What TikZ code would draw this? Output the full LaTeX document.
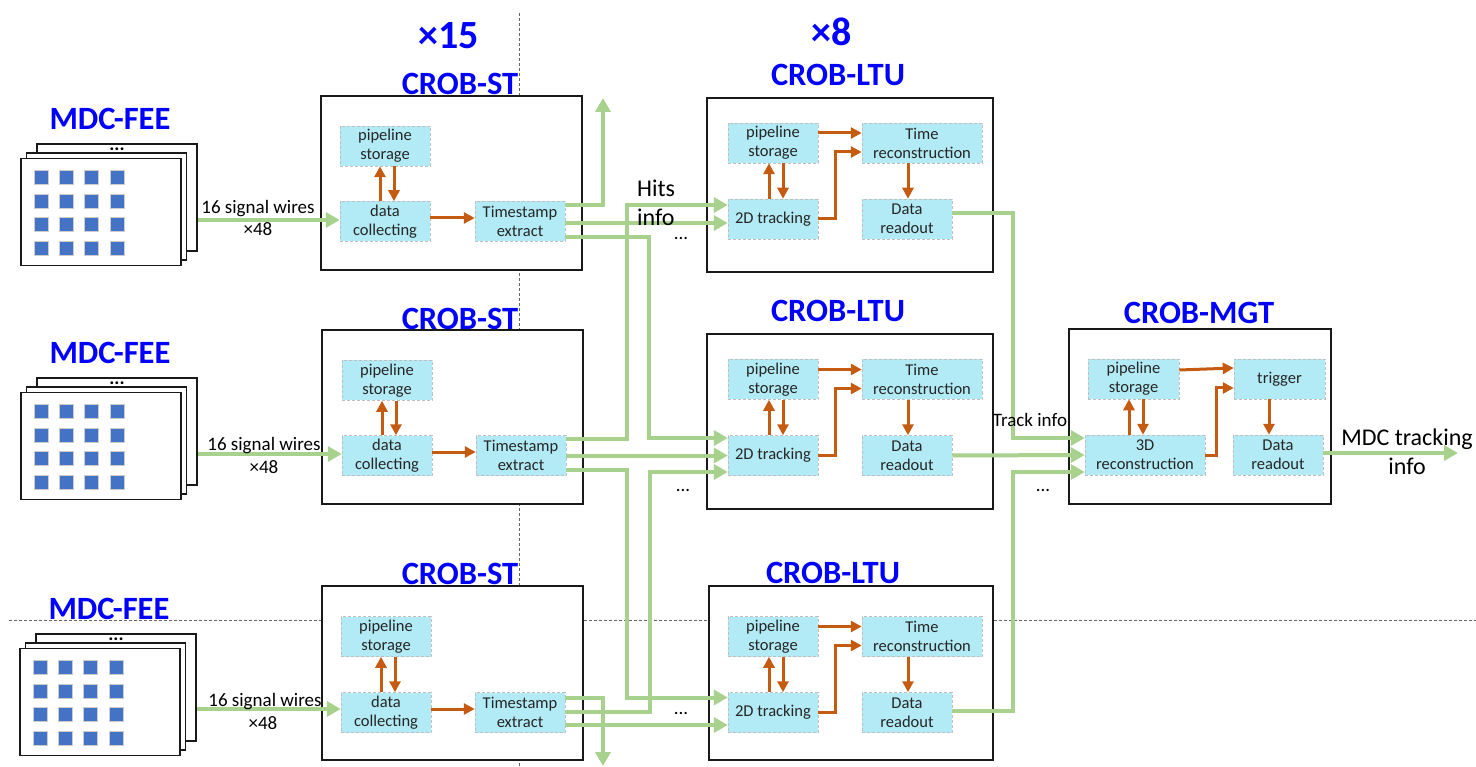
\documentclass[tikz,border=0pt]{standalone}
\usepackage{fontspec}
\setmainfont{Carlito}
\usepackage{tikz}
\usetikzlibrary{arrows.meta}
\definecolor{titleblue}{RGB}{0,0,255}
\definecolor{modcyan}{RGB}{178,235,245}
\definecolor{linkgreen}{RGB}{169,209,142}
\definecolor{ctrlorange}{RGB}{197,90,17}
\definecolor{pinblue}{RGB}{68,114,196}
\tikzset{
  title/.style={font=\fontsize{32.5}{32}\selectfont\bfseries, text=titleblue, inner sep=0pt},
  board/.style={draw=black!90, line width=2pt, fill=white, inner sep=0pt},
  card/.style={draw=black!90, line width=1.8pt, fill=white, inner sep=0pt},
  pin/.style={fill=pinblue, draw=black!20, line width=0.8pt, minimum size=14pt, inner sep=0pt},
  module/.style={fill=modcyan, draw=black!25, densely dashed, line width=0.5pt, align=center, inner sep=0pt,
    text=black!85, font=\fontsize{16.5}{19}\selectfont, minimum height=40pt},
  mods/.style={module, minimum width=90pt},
  modl/.style={module, minimum width=120pt},
  link/.style={draw=linkgreen, line width=4pt, -{Triangle[length=14pt,width=15pt]}},
  ctrl/.style={draw=ctrlorange, line width=3pt, -{Triangle[length=11pt,width=11pt]}},
  note/.style={font=\fontsize{19}{22}\selectfont, inner sep=0pt, align=center},
  bignote/.style={font=\fontsize{24}{29}\selectfont, inner sep=0pt, align=center},
  guide/.style={draw=black!60, densely dashed, line width=0.7pt}
}
\begin{document}
\begin{tikzpicture}[x=1pt,y=-1pt]
\useasboundingbox (0,0) rectangle (1476,767);
% guide lines
\coordinate (vtop) at (519,13);
\coordinate (vbot) at (519,767);
\coordinate (hleft) at (9,620);
\coordinate (hright) at (1476,620);
\draw[guide] (vtop) -- (vbot);
\draw[guide] (hleft) -- (hright);
% front-end cards
\node[card, minimum width=160pt, minimum height=107pt] (feea3) at (117,197.5) {};
\node[card, minimum width=160pt, minimum height=107pt] (feea2) at (106.5,206.5) {};
\node[card, minimum width=160pt, minimum height=107pt] (feea) at (101,212) {};
\node[card, minimum width=160pt, minimum height=107pt] (feeb3) at (117,431.5) {};
\node[card, minimum width=160pt, minimum height=107pt] (feeb2) at (106.5,440.5) {};
\node[card, minimum width=160pt, minimum height=107pt] (feeb) at (101,446) {};
\node[card, minimum width=160pt, minimum height=107pt] (feec3) at (116,687.5) {};
\node[card, minimum width=160pt, minimum height=107pt] (feec2) at (105.5,696.5) {};
\node[card, minimum width=160pt, minimum height=107pt] (feec) at (100,702) {};
\foreach \c/\dx/\dy in {a/0/0,b/0/234,c/-1/490}
  \foreach \i in {0,1,2,3}
    \foreach \j in {0,1,2,3}
      \node[pin] (pin\c\i\j) at (41+\dx+25.3*\i,177.5+\dy+23.5*\j) {};
\node[title] (feetitlea) at (110,119) {MDC-FEE};
\node[title] (feetitleb) at (110,353) {MDC-FEE};
\node[title] (feetitlec) at (109,609) {MDC-FEE};
\node[note, font=\fontsize{19}{22}\selectfont\bfseries] (feedotsa) at (117,149) {...};
\node[note, font=\fontsize{19}{22}\selectfont\bfseries] (feedotsb) at (117,383) {...};
\node[note, font=\fontsize{19}{22}\selectfont\bfseries] (feedotsc) at (116,639) {...};
% CROB-ST boards
\node[board, minimum width=261pt, minimum height=174pt] (sta) at (451.5,183) {};
\node[board, minimum width=261pt, minimum height=174pt] (stb) at (452.5,417) {};
\node[board, minimum width=261pt, minimum height=174pt] (stc) at (452.5,673) {};
\node[title] (sttitlea) at (460,84) {CROB-ST};
\node[title] (sttitleb) at (460,319) {CROB-ST};
\node[title] (sttitlec) at (460,574) {CROB-ST};
\node[mods] (pipea) at (385,146) {pipeline\\storage};
\node[mods] (dataa) at (385,221.5) {data\\collecting};
\node[mods] (tsa) at (520,221.5) {Timestamp\\extract};
\node[mods] (pipeb) at (387,380.5) {pipeline\\storage};
\node[mods] (datab) at (387,455.5) {data\\collecting};
\node[mods] (tsb) at (521,455.5) {Timestamp\\extract};
\node[mods] (pipec) at (386,636.5) {pipeline\\storage};
\node[mods] (datac) at (386,712.5) {data\\collecting};
\node[mods] (tsc) at (520,712.5) {Timestamp\\extract};
% CROB-LTU boards
\node[board, minimum width=286pt, minimum height=174pt] (ltua) at (850,185) {};
\node[board, minimum width=286pt, minimum height=174pt] (ltub) at (850,421.5) {};
\node[board, minimum width=284pt, minimum height=174pt] (ltuc) at (851,673) {};
\node[title] (ltutitlea) at (838,75) {CROB-LTU};
\node[title] (ltutitleb) at (838,311) {CROB-LTU};
\node[title] (ltutitlec) at (833,573) {CROB-LTU};
\node[mods] (lpipea) at (773,143) {pipeline\\storage};
\node[mods] (trka) at (773,219) {2D tracking};
\node[modl] (timea) at (922,143) {Time\\reconstruction};
\node[mods] (reada) at (907,219) {Data\\readout};
\node[mods] (lpipeb) at (773,379.5) {pipeline\\storage};
\node[mods] (trkb) at (773,455.5) {2D tracking};
\node[modl] (timeb) at (922,379.5) {Time\\reconstruction};
\node[mods] (readb) at (907,455.5) {Data\\readout};
\node[mods] (lpipec) at (773,636.5) {pipeline\\storage};
\node[mods] (trkc) at (773,712.5) {2D tracking};
\node[modl] (timec) at (922,636.5) {Time\\reconstruction};
\node[mods] (readc) at (907,712.5) {Data\\readout};
% CROB-MGT board
\node[board, minimum width=262pt, minimum height=175pt] (mgt) at (1200,416.5) {};
\node[title] (mgttitle) at (1199,313) {CROB-MGT};
\node[mods, minimum width=91pt] (mpipe) at (1133.5,379) {pipeline\\storage};
\node[modl] (recon) at (1145,455) {3D\\reconstruction};
\node[mods, minimum width=91pt] (trig) at (1279.5,379) {trigger};
\node[mods] (mread) at (1278,455) {Data\\readout};
% multiplicity
\node[title, font=\fontsize{40}{40}\selectfont\bfseries] (mula) at (449,36) {×15};
\node[title, font=\fontsize{40}{40}\selectfont\bfseries] (mulb) at (832,32) {×8};
% control arrows
\foreach \p/\d/\t in {pipea/dataa/tsa,pipeb/datab/tsb,pipec/datac/tsc}{
  \draw[ctrl] ([xshift=-5pt]\d.north) -- ([xshift=-5pt]\p.south);
  \draw[ctrl] ([xshift=9pt]\p.south) -- ([xshift=9pt]\d.north);
  \draw[ctrl] ([yshift=3.5pt]\d.east) -- ([yshift=3.5pt]\t.west);
}
\foreach \p/\d/\t/\r in {lpipea/trka/timea/reada,lpipeb/trkb/timeb/readb,lpipec/trkc/timec/readc}{
  \draw[ctrl] ([xshift=-4pt]\d.north) -- ([xshift=-4pt]\p.south);
  \draw[ctrl] ([xshift=10pt]\p.south) -- ([xshift=10pt]\d.north);
  \draw[ctrl] ([yshift=10pt]\p.east) -- ([yshift=10pt]\t.west);
  \draw[ctrl] (\d.east) -- ++(17.5,0) |- ([yshift=-9pt]\t.west);
  \draw[ctrl] ([xshift=-14pt]\t.south) -- ([xshift=1pt]\r.north);
}
\draw[ctrl] ([yshift=9pt]mpipe.east) -- ([yshift=11pt]trig.west);
\draw[ctrl] (recon.east) -- ++(11,0) |- ([yshift=-9pt]trig.west);
\draw[ctrl] ([xshift=-16pt]recon.north) -- ([xshift=-16pt]recon.north |- mpipe.south);
\draw[ctrl] ([xshift=-2pt]recon.north |- mpipe.south) -- ([xshift=-2pt]recon.north);
\draw[ctrl] ([xshift=-10.5pt]trig.south) -- ([xshift=-9pt]mread.north);
% data links
\coordinate (upend) at (603,98);
\coordinate (downend) at (603,766);
\coordinate (outend) at (1458,453);
\draw[link] ([yshift=1.5pt]dataa.west -| feea3.east) -- ([yshift=1.5pt]dataa.west);
\draw[link] ([yshift=1.5pt]datab.west -| feeb3.east) -- ([yshift=1.5pt]datab.west);
\draw[link] ([yshift=3.5pt]datac.west -| feec3.east) -- ([yshift=3.5pt]datac.west);
\draw[link] ([yshift=16.5pt]tsa.east) -| (upend);
\draw[link] ([yshift=-1.5pt]tsa.east) -- ([yshift=-4pt]trka.west);
\draw[link] ([yshift=-15.5pt]tsa.east) -- ++(84,0) |- ([yshift=17.5pt]trkb.west);
\draw[link] ([yshift=16.5pt]tsb.east) -- ++(61,0) |- ([yshift=14pt]trka.west);
\draw[link] (tsb.east) -- (trkb.west);
\draw[link] ([yshift=-14pt]tsb.east) -- ++(61,0) |- ([yshift=15pt]trkc.west);
\draw[link] ([yshift=14.5pt]tsc.east) -| (downend);
\draw[link] ([yshift=0.5pt]tsc.east) -- ++(85,0) |- ([yshift=-16.5pt]trkb.west);
\draw[link] ([yshift=-12.5pt]tsc.east) -- ([yshift=-12.5pt]trkc.west);
\draw[link] ([yshift=6pt]reada.east) -- ++(61,0) |- ([yshift=17pt]recon.west);
\draw[link] (readb.east) -- (recon.west);
\draw[link] ([yshift=1.5pt]readc.east) -- ++(61,0) |- ([yshift=-17pt]recon.west);
\draw[link] ([yshift=2pt]mread.east) -- (outend);
% labels
\node[note] (wiresa) at (258,209) {16 signal wires};
\node[note] (counta) at (258,229) {×48};
\node[note] (wiresb) at (264,446) {16 signal wires};
\node[note] (countb) at (264,467) {×48};
\node[note] (wiresc) at (265,702) {16 signal wires};
\node[note] (countc) at (263,723) {×48};
\node[bignote, align=left] (hits) at (656,203) {Hits\\info};
\node[note] (hitsdotsa) at (681,239) {...};
\node[note] (hitsdotsb) at (683,490) {...};
\node[note] (hitsdotsc) at (681,713) {...};
\node[note] (trackdots) at (1043,490) {...};
\node[note] (track) at (1030,420) {Track info};
\node[bignote] (mdcout) at (1407,452) {MDC tracking\\info};
\end{tikzpicture}
\end{document}
